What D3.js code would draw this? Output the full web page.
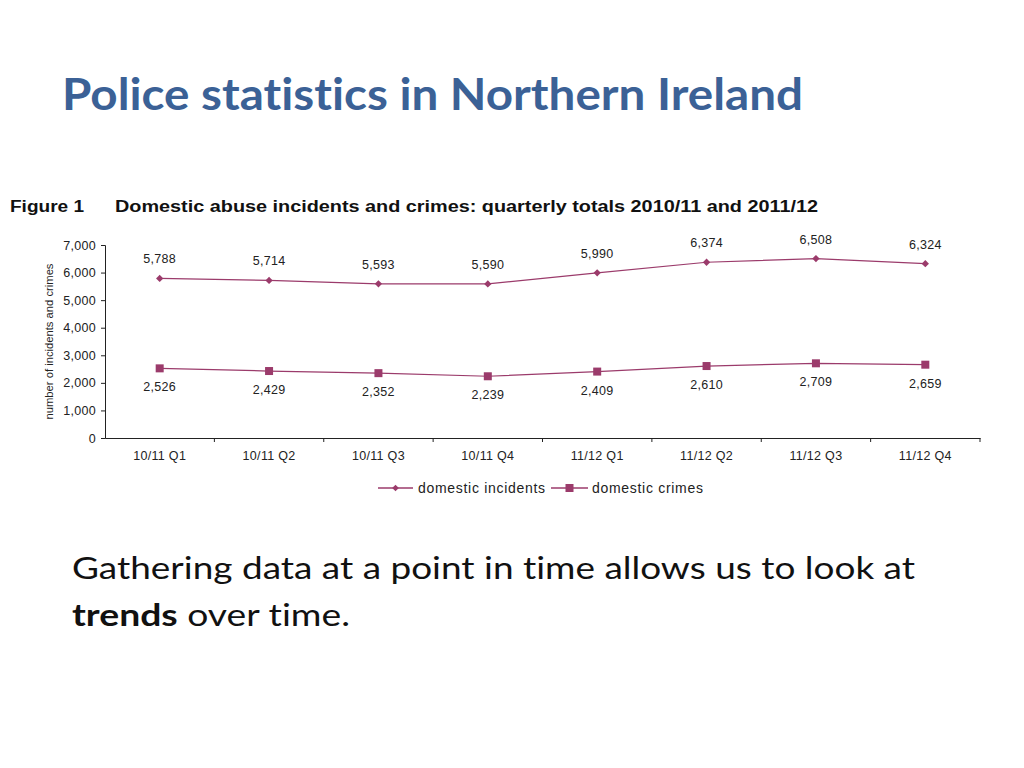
<!DOCTYPE html>
<html>
<head>
<meta charset="utf-8">
<script src="https://cdn.jsdelivr.net/npm/d3@7"></script>
<style>
  body { margin: 0; background: #fff; }
  svg { display: block; }
  text { font-variant-ligatures: none; }
</style>
</head>
<body>
<svg width="1024" height="768"></svg>
<script>
// chart data
var quarters = ["10/11 Q1", "10/11 Q2", "10/11 Q3", "10/11 Q4", "11/12 Q1", "11/12 Q2", "11/12 Q3", "11/12 Q4"];
var incidents = [5788, 5714, 5593, 5590, 5990, 6374, 6508, 6324];
var crimes = [2526, 2429, 2352, 2239, 2409, 2610, 2709, 2659];
var yTicks = [0, 1000, 2000, 3000, 4000, 5000, 6000, 7000];

var color = "#9b3b6b";
var svg = d3.select("svg");

// slide title
svg.append("text")
  .attr("x", 62).attr("y", 110)
  .attr("font-family", "Lato, 'Open Sans', sans-serif")
  .attr("font-weight", "bold")
  .attr("font-size", 43)
  .attr("fill", "#3b6196")
  .attr("textLength", 741).attr("lengthAdjust", "spacingAndGlyphs")
  .text("Police statistics in Northern Ireland");

// figure heading
var head = svg.append("g")
  .attr("font-family", "'Liberation Sans', Arial, sans-serif")
  .attr("font-weight", "bold")
  .attr("font-size", 16)
  .attr("fill", "#111");
head.append("text").attr("x", 10).attr("y", 212)
  .attr("textLength", 74).attr("lengthAdjust", "spacingAndGlyphs")
  .text("Figure 1");
head.append("text").attr("x", 115).attr("y", 212)
  .attr("textLength", 703).attr("lengthAdjust", "spacingAndGlyphs")
  .text("Domestic abuse incidents and crimes: quarterly totals 2010/11 and 2011/12");

var margin = { left: 105, top: 245, right: 980, bottom: 438 };

var x = d3.scaleBand()
  .domain(quarters)
  .range([margin.left, margin.right]);

var y = d3.scaleLinear()
  .domain([0, 7000])
  .range([margin.bottom, margin.top]);

var g = svg.append("g")
  .attr("font-family", "'Liberation Sans', Arial, sans-serif")
  .attr("letter-spacing", 0.3);

// y axis
var yAxis = g.append("g")
  .attr("transform", "translate(" + margin.left + ",0)")
  .call(d3.axisLeft(y).tickValues(yTicks).tickSize(4).tickPadding(5).tickFormat(d3.format(",")));
yAxis.selectAll("text").attr("font-size", 12.5).attr("fill", "#222");
yAxis.selectAll("line, path").attr("stroke", "#222");

// x axis, ticks between categories
var xAxis = g.append("g")
  .attr("transform", "translate(0," + margin.bottom + ")")
  .call(d3.axisBottom(x).tickSize(0).tickPadding(13));
xAxis.selectAll("text").attr("font-size", 12.5).attr("fill", "#222");
xAxis.select("path").attr("stroke", "#222");
xAxis.selectAll(".sep")
  .data(quarters)
  .enter().append("line")
  .attr("x1", function (d) { return x(d) + x.bandwidth(); })
  .attr("x2", function (d) { return x(d) + x.bandwidth(); })
  .attr("y1", 0).attr("y2", 4)
  .attr("stroke", "#222");

// y axis title
g.append("text")
  .attr("transform", "translate(53," + y(3500) + ") rotate(-90)")
  .attr("text-anchor", "middle")
  .attr("font-size", 11.5)
  .attr("letter-spacing", 0)
  .attr("fill", "#222")
  .attr("textLength", 156).attr("lengthAdjust", "spacingAndGlyphs")
  .text("number of incidents and crimes");

var cx = function (d, i) { return x(quarters[i]) + x.bandwidth() / 2; };
var line = d3.line()
  .x(cx)
  .y(function (d) { return y(d); });

// incidents
g.append("path").datum(incidents)
  .attr("d", line).attr("fill", "none")
  .attr("stroke", color).attr("stroke-width", 1.2);
g.selectAll(".diamond").data(incidents).enter().append("path")
  .attr("d", d3.symbol().type(d3.symbolDiamond2).size(34))
  .attr("transform", function (d, i) { return "translate(" + cx(d, i) + "," + y(d) + ")"; })
  .attr("fill", color);
g.selectAll(".lblI").data(incidents).enter().append("text")
  .attr("x", cx).attr("y", function (d) { return y(d) - 15; })
  .attr("text-anchor", "middle").attr("font-size", 12.5).attr("fill", "#222")
  .text(d3.format(","));

// crimes
g.append("path").datum(crimes)
  .attr("d", line).attr("fill", "none")
  .attr("stroke", color).attr("stroke-width", 1.2);
g.selectAll(".sq").data(crimes).enter().append("rect")
  .attr("x", function (d, i) { return cx(d, i) - 4; })
  .attr("y", function (d) { return y(d) - 4; })
  .attr("width", 8).attr("height", 8)
  .attr("fill", color);
g.selectAll(".lblC").data(crimes).enter().append("text")
  .attr("x", cx).attr("y", function (d) { return y(d) + 23; })
  .attr("text-anchor", "middle").attr("font-size", 12.5).attr("fill", "#222")
  .text(d3.format(","));

// legend
var legend = g.append("g").attr("transform", "translate(0,488)").attr("letter-spacing", 0.7);
legend.append("line").attr("x1", 378).attr("x2", 413).attr("stroke", color).attr("stroke-width", 1.3);
legend.append("path").attr("d", d3.symbol().type(d3.symbolDiamond2).size(28))
  .attr("transform", "translate(395.5,0)").attr("fill", color);
legend.append("text").attr("x", 418).attr("y", 5).attr("font-size", 14).attr("fill", "#222")
  .text("domestic incidents");
legend.append("line").attr("x1", 551).attr("x2", 588).attr("stroke", color).attr("stroke-width", 1.3);
legend.append("rect").attr("x", 565.5).attr("y", -4).attr("width", 8).attr("height", 8).attr("fill", color);
legend.append("text").attr("x", 592).attr("y", 5).attr("font-size", 14).attr("fill", "#222")
  .text("domestic crimes");

// body text
var bodyFont = "Lato, 'Open Sans', sans-serif";
svg.append("text")
  .attr("x", 72).attr("y", 579)
  .attr("font-family", bodyFont).attr("font-size", 31).attr("fill", "#111")
  .attr("textLength", 843).attr("lengthAdjust", "spacingAndGlyphs")
  .text("Gathering data at a point in time allows us to look at");
var line2 = svg.append("text")
  .attr("x", 72).attr("y", 626)
  .attr("font-family", bodyFont).attr("font-size", 31).attr("fill", "#111")
  .attr("textLength", 278).attr("lengthAdjust", "spacingAndGlyphs");
line2.append("tspan").attr("font-weight", "bold").text("trends");
line2.append("tspan").text(" over time.");
</script>
</body>
</html>
